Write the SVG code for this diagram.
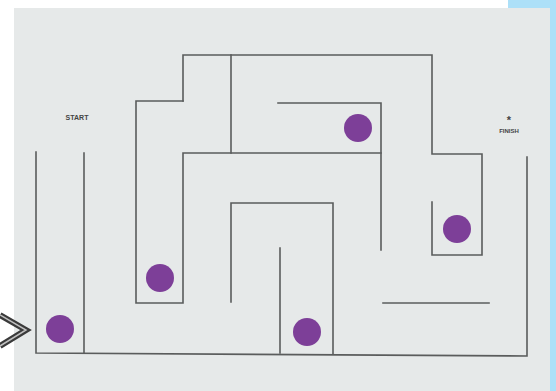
<svg xmlns="http://www.w3.org/2000/svg" width="556" height="391" viewBox="0 0 556 391">
<style>
.w{fill:none;stroke:#5a5c5c;stroke-width:1.6;stroke-linecap:square}
.d{fill:#7d3f98}
.t{font-family:"Liberation Sans",Arial,sans-serif;font-size:7px;fill:#444;text-anchor:middle;font-weight:bold}
</style>
<rect width="556" height="391" fill="#ffffff"/>
<rect x="508" y="0" width="48" height="391" fill="#ade0f8"/>
<rect x="14" y="8" width="536" height="383" fill="#e6e9e9"/>
<g id="maze">
<polyline class="w" points="36,152 36,353 527,356 527,157"/>
<polyline class="w" points="84,153 84,353"/>
<polyline class="w" points="183,101 136,101 136,303 183,303 183,153 381,153"/>
<polyline class="w" points="183,101 183,55 432,55 432,154 482,154 482,255 432,255 432,202"/>
<polyline class="w" points="231,55 231,153"/>
<polyline class="w" points="278,103 381,103 381,250"/>
<polyline class="w" points="231,302 231,203 333,203 333,354"/>
<polyline class="w" points="280,248 280,353"/>
<polyline class="w" points="383,303 489,303"/>
</g>
<g id="arrow">
<polyline points="0,315 26,330 0,346" fill="none" stroke="#3a3a3a" stroke-width="6"/>
<polyline points="0,315 26,330 0,346" fill="none" stroke="#bfbfbf" stroke-width="1.5"/>
</g>
<g id="labels">
<text class="t" x="77" y="120">START</text>
<text class="t" x="509" y="124" style="font-size:11px">*</text>
<text class="t" x="509" y="133" style="font-size:6px">FINISH</text>
</g>
<g id="dots">
<circle class="d" cx="358" cy="128" r="14"/>
<circle class="d" cx="457" cy="229" r="14"/>
<circle class="d" cx="160" cy="278" r="14"/>
<circle class="d" cx="60" cy="329" r="14"/>
<circle class="d" cx="307" cy="332" r="14"/>
</g>
</svg>
